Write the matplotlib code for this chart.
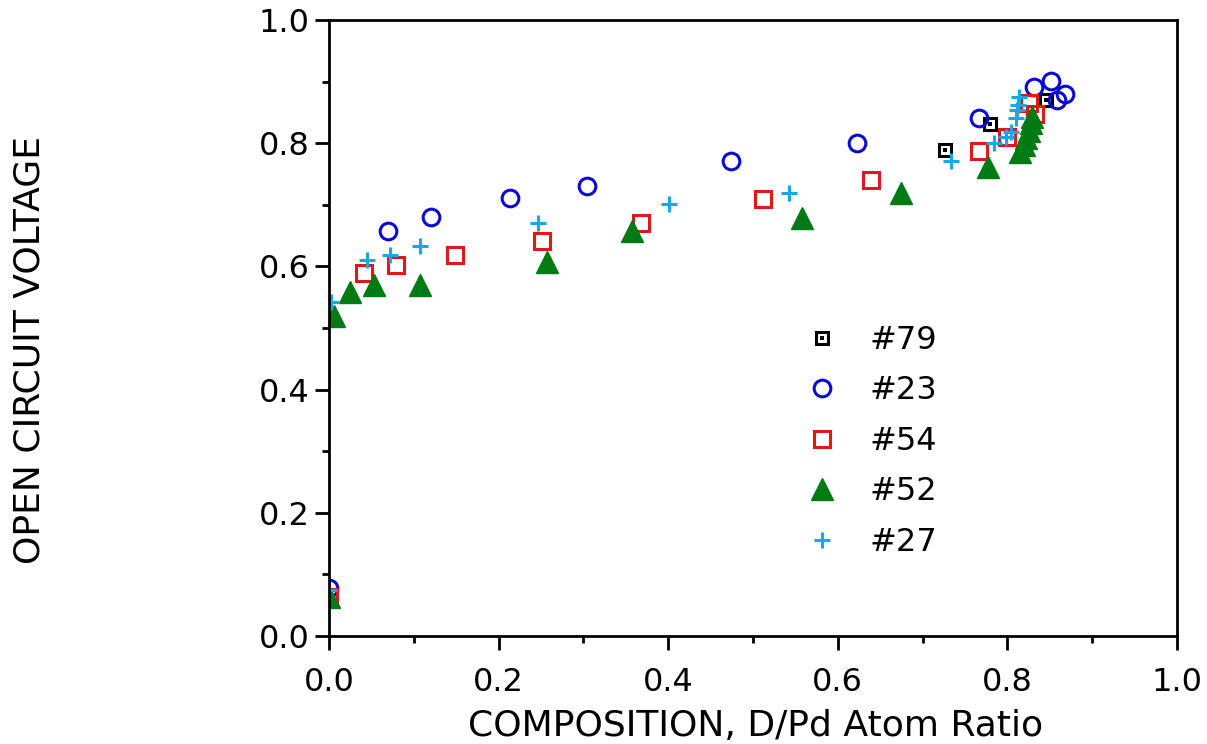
import matplotlib
matplotlib.use("Agg")
import matplotlib.pyplot as plt
from matplotlib.legend_handler import HandlerTuple

# D/Pd atom ratio vs open circuit voltage, one run per series
x79 = [0.727, 0.780, 0.845]
y79 = [0.789, 0.831, 0.870]

x23 = [0.000, 0.069, 0.120, 0.214, 0.304, 0.474, 0.623, 0.766, 0.831, 0.852, 0.859, 0.868]
y23 = [0.078, 0.657, 0.680, 0.711, 0.731, 0.771, 0.800, 0.841, 0.891, 0.901, 0.870, 0.880]

x54 = [0.000, 0.041, 0.079, 0.148, 0.251, 0.368, 0.512, 0.639, 0.767, 0.799, 0.826, 0.833]
y54 = [0.063, 0.589, 0.602, 0.619, 0.641, 0.670, 0.709, 0.740, 0.787, 0.810, 0.865, 0.848]

x52 = [0.000, 0.006, 0.025, 0.053, 0.107, 0.257, 0.357, 0.558, 0.674, 0.777,
       0.815, 0.819, 0.822, 0.825, 0.828, 0.829]
y52 = [0.063, 0.519, 0.558, 0.570, 0.570, 0.607, 0.657, 0.679, 0.719, 0.761,
       0.785, 0.797, 0.808, 0.820, 0.832, 0.842]

x27 = [0.000, 0.002, 0.045, 0.072, 0.107, 0.247, 0.401, 0.542, 0.733,
       0.784, 0.798, 0.804, 0.810, 0.811, 0.812, 0.814]
y27 = [0.075, 0.542, 0.610, 0.618, 0.633, 0.670, 0.701, 0.719, 0.771,
       0.800, 0.810, 0.818, 0.841, 0.854, 0.862, 0.875]

labels = ["#79", "#23", "#54", "#52", "#27"]
ticks = [0.0, 0.2, 0.4, 0.6, 0.8, 1.0]
minor_ticks = [0.1, 0.3, 0.5, 0.7, 0.9]

BLUE = "#0a0ad0"
RED = "#e01818"
GREEN = "#007a12"
CYAN = "#18a8e8"
FS = 23      # tick / legend text
LFS = 26     # axis titles

plt.rcParams["font.family"] = ["DejaVu Sans"]

W, H = 1207, 744
fig = plt.figure(figsize=(W / 100, H / 100), dpi=100)
ax = fig.add_axes([329 / W, 108 / H, 848 / W, 616 / H])

h79a, = ax.plot(x79, y79, ls="none", marker="s", ms=8, mfc="white",
                mec="black", mew=2.2)
h79b, = ax.plot(x79, y79, ls="none", marker="s", ms=2.5, mfc="black",
                mec="black", mew=0)
h23, = ax.plot(x23, y23, ls="none", marker="o", ms=12, mfc="none",
               mec=BLUE, mew=2.2)
h54, = ax.plot(x54, y54, ls="none", marker="s", ms=12, mfc="none",
               mec=RED, mew=2.2)
h52, = ax.plot(x52, y52, ls="none", marker="^", ms=16, mfc=GREEN,
               mec=GREEN, mew=1)
h27, = ax.plot(x27, y27, ls="none", marker="+", ms=12, mec=CYAN, mew=2.2)

ax.set_xlim(0, 1)
ax.set_ylim(0, 1)
ax.set_xticks(ticks)
ax.set_yticks(ticks)
ax.set_xticks(minor_ticks, minor=True)
ax.set_yticks(minor_ticks, minor=True)
ax.xaxis.set_major_formatter(lambda v, p: f"{v:.1f}")
ax.yaxis.set_major_formatter(lambda v, p: f"{v:.1f}")
ax.tick_params(which="major", direction="out", length=10, width=2,
               labelsize=FS)
ax.tick_params(axis="x", which="major", pad=12)
ax.tick_params(axis="y", which="major", pad=4)
ax.tick_params(which="minor", direction="out", length=5, width=2)
for s in ax.spines.values():
    s.set_linewidth(2)

fig.text(756 / W, (H - 736) / H, "COMPOSITION, D/Pd Atom Ratio",
         ha="center", va="baseline", fontsize=LFS)
fig.text(30 / W, (H - 350) / H, "OPEN CIRCUIT VOLTAGE",
         rotation=90, ha="center", va="center", fontsize=LFS)

ax.legend([(h79a, h79b), h23, h54, h52, h27], labels,
          handler_map={tuple: HandlerTuple(ndivide=1, pad=0)},
          loc="upper left", bbox_to_anchor=(0.5625, 0.505),
          frameon=False, fontsize=FS, handlelength=1.0, handletextpad=1.0,
          labelspacing=0.61, borderaxespad=0, borderpad=0)

fig.savefig("out.png", dpi=100)
